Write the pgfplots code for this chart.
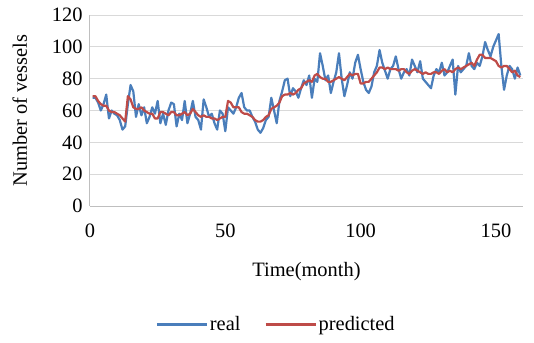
\documentclass[border=0pt]{standalone}
\usepackage{fontspec}
\setmainfont{Liberation Serif}
\usepackage{pgfplots}
\usepackage{pgfplotstable}
\pgfplotsset{compat=1.18}
\definecolor{realc}{HTML}{4A7EBB}
\definecolor{predc}{HTML}{BE4B48}
\definecolor{gridc}{HTML}{D9D9D9}
\definecolor{axc}{HTML}{BFBFBF}
\pgfplotstableread{
x real pred
1 68 69
2 68 69
3 65 66
4 60 64
5 64 63
6 70 63
7 55 60
8 60 59
9 58 59
10 57 58
11 54 57
12 48 55
13 50 53
14 64 69
15 76 67
16 72 62
17 56 61
18 64 61
19 57 62
20 62 60
21 52 59
22 56 58
23 62 58
24 58 55
25 66 55
26 52 59
27 58 59
28 51 58
29 60 57
30 65 59
31 64 59
32 50 57
33 58 57
34 54 58
35 66 59
36 52 57
37 58 58
38 66 61
39 56 59
40 54 57
41 48 56
42 67 57
43 62 56
44 56 56
45 58 55
46 52 55
47 48 54
48 60 55
49 58 56
50 47 56
51 62 66
52 60 65
53 58 62
54 62 62
55 68 62
56 71 59
57 62 58
58 60 58
59 60 57
60 56 56
61 53 54
62 48 53
63 46 53
64 49 54
65 54 56
66 56 57
67 68 61
68 60 62
69 52 63
70 66 65
71 72 69
72 79 70
73 80 70
74 69 71
75 74 70
76 72 71
77 68 73
78 74 74
79 79 77
80 76 78
81 82 79
82 68 78
83 80 82
84 78 83
85 96 81
86 88 80
87 79 80
88 82 78
89 71 78
90 78 79
91 84 80
92 96 81
93 80 80
94 69 79
95 76 81
96 84 83
97 80 82
98 90 83
99 95 83
100 86 77
101 78 77
102 73 78
103 71 78
104 75 80
105 84 82
106 88 84
107 98 87
108 90 87
109 85 86
110 80 87
111 86 86
112 88 86
113 94 86
114 86 85
115 80 86
116 84 86
117 86 84
118 82 83
119 92 85
120 88 86
121 84 85
122 91 84
123 80 83
124 78 84
125 76 83
126 74 83
127 82 84
128 86 84
129 84 83
130 90 85
131 82 86
132 84 84
133 88 85
134 92 84
135 70 86
136 88 87
137 84 86
138 86 87
139 88 88
140 96 89
141 88 90
142 86 88
143 90 92
144 88 95
145 94 95
146 103 93
147 98 93
148 94 93
149 100 92
150 104 91
151 108 88
152 88 87
153 73 88
154 82 88
155 88 86
156 86 84
157 80 85
158 87 82
159 82 81
}\datatable
\begin{document}
\begin{tikzpicture}
\begin{axis}[
  at={(0,0)}, anchor=south west,
  width=433bp, height=191bp, scale only axis,
  xmin=0, xmax=160, ymin=0, ymax=120,
  xtick={0,50,100,150}, ytick={0,20,...,120},
  axis x line=bottom, axis y line=left,
  axis line style={axc, line width=1bp, -},
  major tick length=0pt,
  ymajorgrids, grid style={gridc, line width=1bp},
  font=\fontsize{20.5}{24}\selectfont,
  /pgf/number format/assume math mode=true,
  xticklabel style={yshift=-14bp},
  yticklabel style={xshift=-4bp},
  xlabel={Time(month)},
  ylabel={Number of vessels},
  xlabel shift=18bp,
  ylabel shift=18bp,
  legend columns=2,
  legend style={at={(0.43,-0.62)}, anchor=center, draw=none, fill=none,
    /tikz/every even column/.append style={column sep=22bp}},
  legend image code/.code={\draw[#1] (0bp,0bp) -- (50bp,0bp);},
  clip=false,
]
\addplot[realc, line width=2.2bp, line join=round] table[x=x, y=real] {\datatable};
\addlegendentry{real}
\addplot[predc, line width=2.2bp, line join=round] table[x=x, y=pred] {\datatable};
\addlegendentry{predicted}
\end{axis}
\pgfresetboundingbox
\path[use as bounding box] (-90bp,-137bp) rectangle (444bp,206bp);
\end{tikzpicture}
\end{document}
